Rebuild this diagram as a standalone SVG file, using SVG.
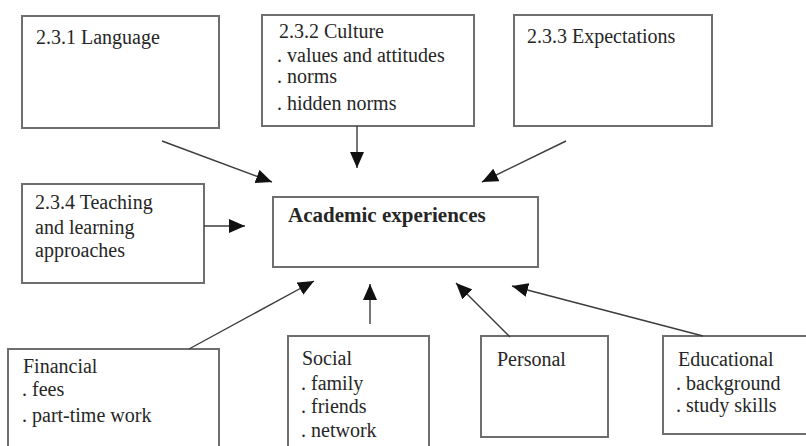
<svg xmlns="http://www.w3.org/2000/svg" width="806" height="446" viewBox="0 0 806 446">
  <style>
    .box { fill: #ffffff; stroke: #6e6e6e; stroke-width: 2; }
    .lbl { font-family: "Liberation Serif", "Times New Roman", serif; font-size: 20px; fill: #262626; }
    .bold { font-weight: bold; font-size: 21px; }
    .link { stroke: #3c3c3c; stroke-width: 1.4; fill: none; marker-end: url(#head); }
  </style>
  <defs>
    <marker id="head" markerUnits="userSpaceOnUse" markerWidth="16" markerHeight="14" refX="16" refY="7" orient="auto">
      <path d="M0,0 L16,7 L0,14 z" fill="#111111"/>
    </marker>
  </defs>
  <rect width="806" height="446" fill="#ffffff"/>

  <g id="language">
    <rect class="box" x="22" y="16" width="197" height="112"/>
    <text class="lbl" x="36" y="44">2.3.1 Language</text>
  </g>

  <g id="culture">
    <rect class="box" x="262" y="15" width="212" height="111"/>
    <text class="lbl" x="279" y="38">2.3.2 Culture</text>
    <text class="lbl" x="277" y="62">. values and attitudes</text>
    <text class="lbl" x="277" y="83">. norms</text>
    <text class="lbl" x="277" y="110">. hidden norms</text>
  </g>

  <g id="expectations">
    <rect class="box" x="514" y="15" width="198" height="111"/>
    <text class="lbl" x="527" y="43">2.3.3 Expectations</text>
  </g>

  <g id="teaching">
    <rect class="box" x="22" y="184" width="182" height="99"/>
    <text class="lbl" x="35" y="209">2.3.4 Teaching</text>
    <text class="lbl" x="35" y="234">and learning</text>
    <text class="lbl" x="35" y="257">approaches</text>
  </g>

  <g id="academic">
    <rect class="box" x="273" y="197" width="265" height="70"/>
    <text class="lbl bold" x="288" y="222">Academic experiences</text>
  </g>

  <g id="financial">
    <rect class="box" x="8" y="349" width="211" height="110"/>
    <text class="lbl" x="23" y="373">Financial</text>
    <text class="lbl" x="22" y="396">. fees</text>
    <text class="lbl" x="22" y="422">. part-time work</text>
  </g>

  <g id="social">
    <rect class="box" x="288" y="336" width="141" height="120"/>
    <text class="lbl" x="302" y="365">Social</text>
    <text class="lbl" x="301" y="390">. family</text>
    <text class="lbl" x="301" y="413">. friends</text>
    <text class="lbl" x="301" y="437">. network</text>
  </g>

  <g id="personal">
    <rect class="box" x="481" y="336" width="127" height="101"/>
    <text class="lbl" x="497" y="366">Personal</text>
  </g>

  <g id="educational">
    <rect class="box" x="663" y="336" width="160" height="98"/>
    <text class="lbl" x="678" y="366">Educational</text>
    <text class="lbl" x="676" y="390">. background</text>
    <text class="lbl" x="676" y="412">. study skills</text>
  </g>

  <g id="connectors">
    <line class="link" x1="162" y1="141" x2="272" y2="182"/>
    <line class="link" x1="357" y1="126" x2="357" y2="168"/>
    <line class="link" x1="566" y1="141" x2="482" y2="182"/>
    <line class="link" x1="204" y1="226" x2="245" y2="226"/>
    <line class="link" x1="189" y1="349" x2="314" y2="281"/>
    <line class="link" x1="370" y1="324" x2="370" y2="284"/>
    <line class="link" x1="510" y1="337" x2="456" y2="283"/>
    <line class="link" x1="703" y1="336" x2="512" y2="286"/>
  </g>
</svg>
